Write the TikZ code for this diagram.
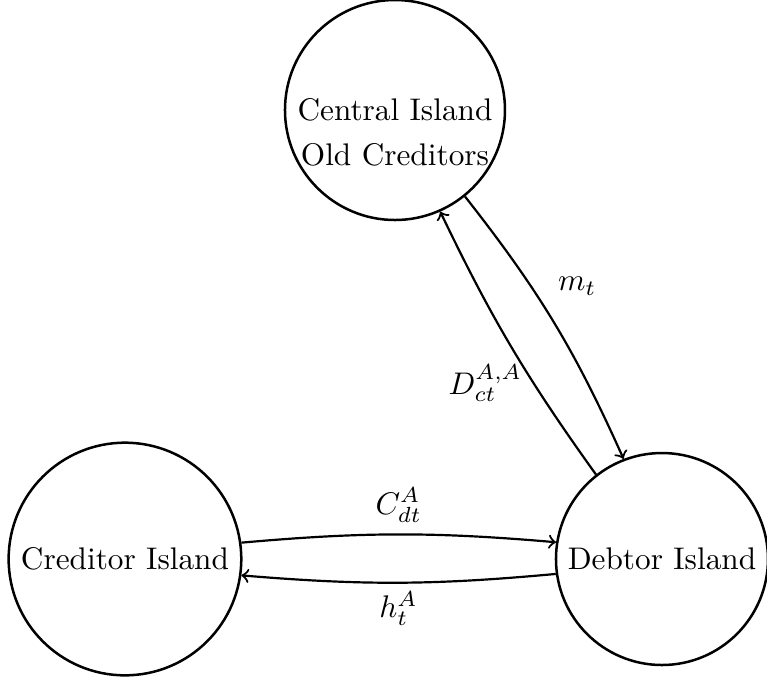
\documentclass[tikz,border=0pt]{standalone}
\usetikzlibrary{positioning}
\tikzset{
  island/.style={draw, circle, thick, inner sep=2pt},
  flow/.style={->, line width=0.7pt}
}
\begin{document}
\begin{tikzpicture}
      \useasboundingbox (0,0) rectangle (8.618,7.641);
      \node[island, minimum size=2.472cm] (central) at (4.438,6.405)
        {\raisebox{-10.5pt}[0pt][0pt]{\begin{tabular}{@{}c@{}}Central Island\\[2.4pt]Old Creditors\end{tabular}}};
      \node[island, minimum size=2.614cm] (creditor) at (1.404,1.36) {Creditor Island};
      \node[island, minimum size=2.382cm] (debtor) at (7.438,1.36) {Debtor Island};
      \begin{scope}[flow]
        \draw (creditor.8) to[bend left=5] node[above] (cdt) {$C^A_{dt}$} (debtor.171);
        \draw (debtor.188) to[bend left=5] node[below=-1pt] (ht) {$h^A_t$} (creditor.-8);
        \draw (debtor.128) to[bend left=5] node[pos=0.35,left] (dct) {$D^{A,A}_{ct}$} (central.-66);
        \draw (central.-51) to[bend left=7] node[pos=0.35,right=5pt] (mt) {$m_t$} (debtor.111);
      \end{scope}
    \end{tikzpicture}
\end{document}
